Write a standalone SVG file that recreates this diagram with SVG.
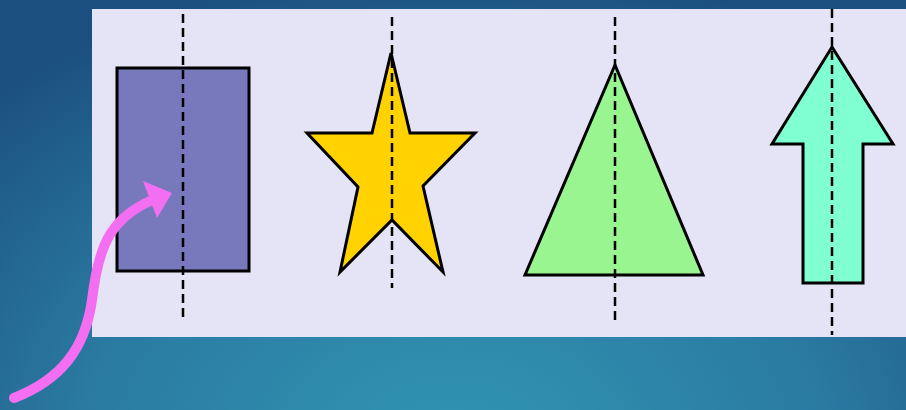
<svg xmlns="http://www.w3.org/2000/svg" width="906" height="410" viewBox="0 0 906 410">
<defs>
<radialGradient id="bg" cx="0.5" cy="1.1" r="0.75" gradientTransform="translate(0.5 1.1) scale(1 1.6) translate(-0.5 -1.1)">
<stop offset="0" stop-color="#3196b2"/>
<stop offset="0.55" stop-color="#2a7aa2"/>
<stop offset="1" stop-color="#1b4f7f"/>
</radialGradient>
<style>
.shape{stroke:#000;stroke-width:3;stroke-linejoin:miter}
.axis{stroke:#000;stroke-width:2.5;stroke-dasharray:9 5;fill:none}
</style>
</defs>
<rect width="906" height="410" fill="url(#bg)"/>
<rect id="panel" x="92" y="9" width="814" height="328" fill="#e4e4f6"/>
<g id="rectangle">
<rect class="shape" x="117" y="68" width="132" height="203" fill="#7878bc"/>
<line class="axis" x1="183" y1="14" x2="183" y2="321"/>
</g>
<g id="star">
<polygon class="shape" fill="#ffd200" points="391,53 372,133 307,133 358,187 340,272 392,220 443,272 423,186 475,133 410,133"/>
<line class="axis" x1="392" y1="17" x2="392" y2="288"/>
</g>
<g id="triangle">
<polygon class="shape" fill="#98f590" points="615,65 703,275 525,275"/>
<line class="axis" x1="615" y1="17" x2="615" y2="325"/>
</g>
<g id="arrow">
<polygon class="shape" fill="#7fffd2" points="832,47 893,144 863,144 863,283 803,283 803,144 772,144"/>
<line class="axis" x1="832" y1="9" x2="832" y2="335"/>
</g>
<g id="connectors">
<path d="M14,398 C60,380 85,350 92,300 C98,250 108,220 150,201" fill="none" stroke="#f46ef2" stroke-width="10" stroke-linecap="round"/>
<polygon points="172,193 143,181 157,218" fill="#f46ef2"/>
</g>
</svg>
